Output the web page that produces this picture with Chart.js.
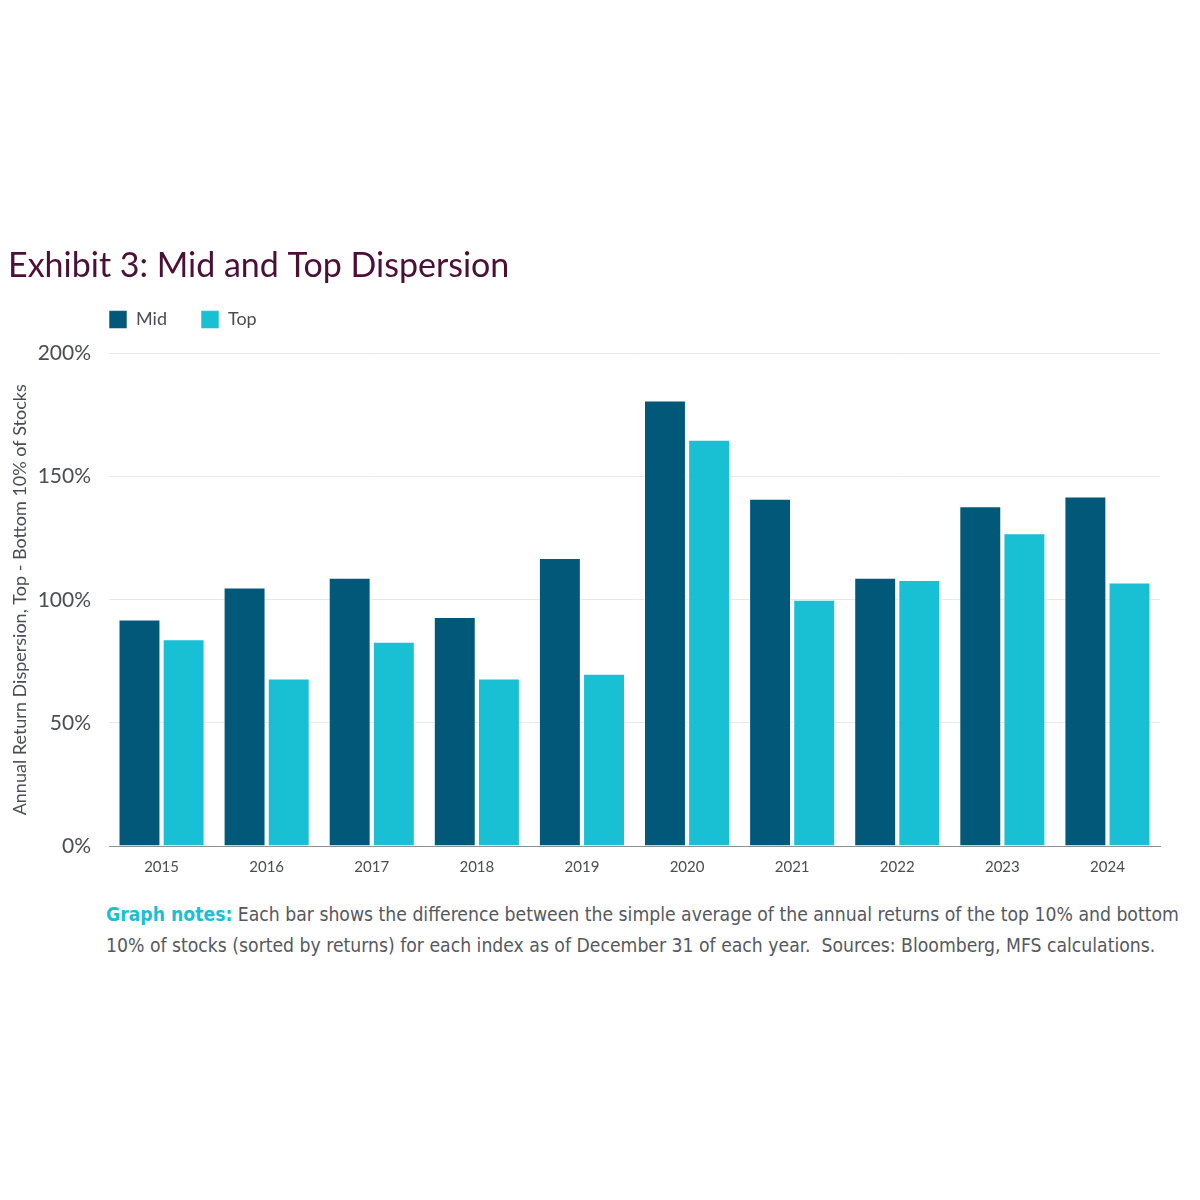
<!DOCTYPE html>
<html>
<head>
<meta charset="utf-8">
<script src="https://cdn.jsdelivr.net/npm/chart.js@4.4.1/dist/chart.umd.min.js"></script>
<style>
  html, body { margin: 0; padding: 0; background: #fff; }
  #wrap { position: relative; width: 1200px; height: 1200px; }
  #box { position: absolute; left: 0; top: 232px; width: 1200px; height: 666px; }
  .notes {
    position: absolute; left: 106px; top: 899px;
    font-family: 'DejaVu Sans Condensed', sans-serif;
    font-size: 20px; line-height: 31px; color: #555861; white-space: nowrap;
    transform: scaleX(0.96); transform-origin: left top;
  }
  .notes b { color: #1abfd3; font-weight: bold; }
</style>
</head>
<body>
<div id="wrap">
  <div id="box"><canvas id="dispersionChart"></canvas></div>
  <div class="notes">
    <b>Graph notes:</b> Each bar shows the difference between the simple average of the annual returns of the top 10% and bottom<br>
    10% of stocks (sorted by returns) for each index as of December 31 of each year.&nbsp; Sources: Bloomberg, MFS calculations.
  </div>
</div>
<script>
const years = ['2015', '2016', '2017', '2018', '2019', '2020', '2021', '2022', '2023', '2024'];
const midValues = [92, 105, 109, 93, 117, 181, 141, 109, 138, 142];
const topValues = [84, 68, 83, 68, 70, 165, 100, 108, 127, 107];
const yTicks = [0, 50, 100, 150, 200];

const legendGap = 34;

// legend starts flush with the plot area and sits a bit higher than its slot
const legendShift = {
    id: 'legendShift',
    afterLayout(chart) {
        chart.legend.left = chart.chartArea.left - legendGap;
        chart.legend.top -= 15;
    }
};

const ctx = document.getElementById('dispersionChart').getContext('2d');
const dispersionChart = new Chart(ctx, {
    type: 'bar',
    data: {
        labels: years,
        datasets: [{
            label: 'Mid',
            data: midValues,
            backgroundColor: '#025878',
            borderColor: 'rgba(255,255,255,0.55)',
            borderWidth: 1
        }, {
            label: 'Top',
            data: topValues,
            backgroundColor: '#19bfd3',
            borderColor: 'rgba(255,255,255,0.55)',
            borderWidth: 1
        }]
    },
    plugins: [legendShift],
    options: {
        responsive: true,
        maintainAspectRatio: false,
        animation: false,
        datasets: {
            bar: { categoryPercentage: 0.84, barPercentage: 0.95 }
        },
        layout: { padding: { left: 8, right: 40, top: 0, bottom: 18 } },
        scales: {
            x: {
                grid: { display: false },
                border: { color: '#8c9099', width: 1 },
                ticks: { color: '#4a4d55', font: { family: 'Lato', size: 15 }, padding: 4 }
            },
            y: {
                min: 0,
                max: 200,
                afterBuildTicks: (axis) => { axis.ticks = yTicks.map(v => ({ value: v })); },
                afterFit: (axis) => { axis.width = 101; },
                grid: { color: '#e8e8e8', drawTicks: false },
                border: { display: false },
                ticks: {
                    color: '#4a4d55',
                    font: { family: 'Lato', size: 21 },
                    padding: 18,
                    callback: function(value) {
                        return value + '%';
                    }
                },
                title: {
                    display: true,
                    text: 'Annual Return Dispersion, Top - Bottom 10% of Stocks',
                    color: '#4a4d55',
                    font: { family: 'Lato', size: 18 },
                    padding: { top: 1, bottom: 2 }
                }
            }
        },
        plugins: {
            title: {
                display: true,
                align: 'start',
                text: 'Exhibit 3: Mid and Top Dispersion',
                color: '#4b1036',
                font: { family: 'Lato', size: 34, weight: 'normal', lineHeight: 0.4 },
                padding: { top: 27, bottom: 19 }
            },
            legend: {
                align: 'start',
                fullSize: false,
                labels: {
                    boxWidth: 18,
                    boxHeight: 18,
                    padding: legendGap,
                    color: '#4a4d55',
                    font: { family: 'Lato', size: 18 }
                }
            },
            tooltip: { enabled: false }
        }
    }
});
</script>
</body>
</html>
